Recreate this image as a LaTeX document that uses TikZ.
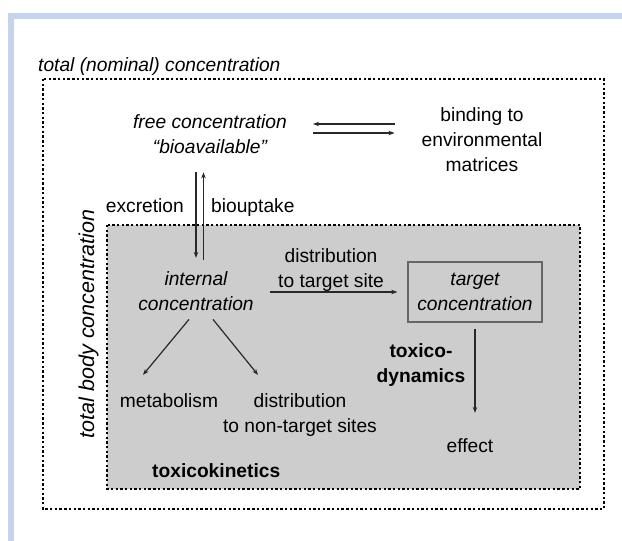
\documentclass[tikz,border=0pt]{standalone}
\usepackage{fontspec}
\setmainfont{Liberation Sans}
\usepackage{tikz}
\usetikzlibrary{calc,positioning,arrows.meta}
\definecolor{bandblue}{RGB}{197,211,238}
\definecolor{boxgray}{RGB}{205,205,205}
\definecolor{inkgray}{RGB}{40,40,40}
\tikzstyle{txt} = [inner sep=0pt, align=center,
    font=\fontsize{19.2}{25}\selectfont, text=black]
\tikzstyle{itxt} = [txt, font=\fontsize{19.2}{25}\selectfont\itshape]
\tikzstyle{btxt} = [txt, font=\fontsize{19.2}{25}\selectfont\bfseries]
\tikzstyle{targetbox} = [itxt, draw=black!60, line width=1.3pt,
    minimum width=134pt, minimum height=60pt]
\tikzstyle{arrow} = [draw=inkgray, line width=1.2pt, -{Stealth[length=6pt,width=4.5pt]}]
\tikzstyle{dotbox} = [line width=2.6pt, dash pattern=on 2.4pt off 2.3pt]

\begin{document}
\begin{tikzpicture}[x=1pt, y=-1pt]
        \useasboundingbox (0,0) rectangle (622,541);
        % page frame
        \fill[bandblue] (8,13) rectangle (622,19);
        \fill[bandblue] (8,13) rectangle (14,541);
        % compartments
        \draw[dotbox] (43,79) rectangle (604,509);
        \draw[dotbox, fill=boxgray] (107,225) rectangle (580,489);
        \node (total) [itxt, anchor=base west] at (38,71) {total (nominal) concentration};
        \node (body) [itxt, font=\fontsize{21.5}{25}\selectfont\itshape, rotate=90, anchor=base] at (94,324) {total body concentration};
        % environment (base = last line)
        \node (free) [itxt, anchor=base] at (210,153) {free concentration\\“bioavailable”};
        \node (binding) [txt, anchor=base] at (482,171) {binding to\\environmental\\matrices};
        \draw [arrow] ($(binding.base west |- free.base)+(-27,-29)$) -- ($(free.base east)+(26,-29)$);
        \draw [arrow] ($(free.base east)+(26,-20)$) -- ($(binding.base west |- free.base)+(-27,-20)$);
        % organism
        \node (internal) [itxt, anchor=base] at (196,310) {internal\\concentration};
        \node (excretion) [txt, anchor=base east] at (184,212) {excretion};
        \node (biouptake) [txt, anchor=base west] at (211,212) {biouptake};
        \draw [arrow] ($(internal.north |- free.south)+(0,19)$) -- ($(internal.north)+(0,-13)$);
        \draw [arrow] ($(internal.north)+(7.5,-11)$) -- ($(internal.north |- free.south)+(7.5,19)$);
        \node (target) [targetbox] at (475,292) {target\\concentration};
        \node (disttarget) [txt, anchor=base] at (331,287) {distribution\\to target site};
        \draw [arrow] ($(internal.base east)+(16,-18)$) -- ($(target.west)+(-10,0)$);
        \node (metab) [txt, anchor=base] at (169,407) {metabolism};
        \node (nontarget) [txt, anchor=base] at (300,432) {distribution\\to non-target sites};
        \draw [arrow] ($(internal.south)+(-7,9)$) -- ($(metab.north)+(-26,-18)$);
        \draw [arrow] ($(internal.south)+(17,9)$) -- ($(nontarget.north)+(-42,-18)$);
        \node (kinetics) [btxt, anchor=base west] at (152,477) {toxicokinetics};
        \node (dynamics) [btxt, anchor=base] at (421,382) {toxico-\\dynamics};
        \node (effect) [txt, anchor=base] at (470,452) {effect};
        \draw [arrow] ($(target.south)+(0,6)$) -- ($(target.south |- effect.north)+(0,-25)$);
\end{tikzpicture}
\end{document}
